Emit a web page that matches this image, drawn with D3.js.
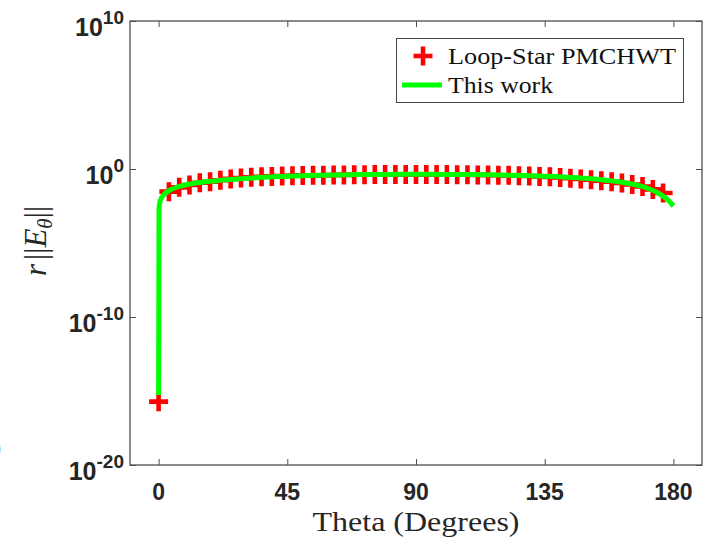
<!DOCTYPE html>
<html><head><meta charset="utf-8">
<script src="https://cdn.jsdelivr.net/npm/d3@7"></script>
<style>body{margin:0;background:#fff}svg{display:block}</style>
</head><body>
<svg id="c" width="725" height="549"></svg>
<script>
// ---- data ----
const thetaTicks = [0, 45, 90, 135, 180];
const yTickExponents = [10, 0, -10, -20];
const seriesNames = ["Loop-Star PMCHWT", "This work"];
const xLabel = "Theta (Degrees)";

const loopStarTheta = [0, 3.6, 7.2, 10.8, 14.4, 18, 21.6, 25.2, 28.8, 32.4, 36, 39.6, 43.2, 46.8, 50.4, 54, 57.6, 61.2, 64.8, 68.4, 72, 75.6, 79.2, 82.8, 86.4, 90, 93.6, 97.2, 100.8, 104.4, 108, 111.6, 115.2, 118.8, 122.4, 126, 129.6, 133.2, 136.8, 140.4, 144, 147.6, 151.2, 154.8, 158.4, 162, 165.6, 169.2, 172.8, 176.4];
const loopStarValues = [1.9e-16, 0.0295, 0.0575, 0.0832, 0.117, 0.138, 0.174, 0.214, 0.245, 0.275, 0.302, 0.316, 0.331, 0.347, 0.363, 0.372, 0.380, 0.389, 0.398, 0.407, 0.407, 0.417, 0.417, 0.417, 0.417, 0.417, 0.417, 0.417, 0.417, 0.407, 0.407, 0.398, 0.389, 0.380, 0.372, 0.355, 0.339, 0.316, 0.295, 0.269, 0.240, 0.214, 0.186, 0.162, 0.138, 0.112, 0.0891, 0.0661, 0.0417, 0.0240];

const thisWorkTheta = [0, 0.15, 0.5, 1, 2, 3, 4, 6, 8, 10, 12, 15, 18, 21, 25, 30, 35, 40, 45, 50, 55, 60, 70, 80, 90, 100, 110, 120, 130, 140, 145, 150, 155, 160, 165, 168, 171, 174, 176, 178, 179, 180];
const thisWorkValues = [5.4e-16, 0.0025, 0.0063, 0.0112, 0.0200, 0.0282, 0.038, 0.0562, 0.0724, 0.0891, 0.105, 0.126, 0.148, 0.170, 0.195, 0.229, 0.263, 0.295, 0.324, 0.347, 0.372, 0.389, 0.417, 0.432, 0.437, 0.432, 0.417, 0.389, 0.347, 0.302, 0.269, 0.229, 0.186, 0.145, 0.102, 0.0759, 0.0501, 0.0282, 0.0166, 0.0083, 0.0052, 0.00316];

// ---- layout ----
const svg = d3.select("#c");
const L = 130, R = 702, T = 21, B = 465;
const x = d3.scaleLinear().domain([-10, 190]).range([L, R]);
const y = d3.scaleLog().domain([1e-20, 1e10]).range([B, T]);
const axisColor = "#4f4f4f";
const tickFont = "'Liberation Sans', Arial, Helvetica, sans-serif";
const serif = "'Liberation Serif', 'Times New Roman', serif";

// axes (ticks inward, mirrored on top/right)
const gB = svg.append("g").attr("transform", `translate(0,${B})`)
  .call(d3.axisBottom(x).tickValues(thetaTicks).tickSize(-6).tickFormat(""));
const gT = svg.append("g").attr("transform", `translate(0,${T})`)
  .call(d3.axisTop(x).tickValues(thetaTicks).tickSize(-6).tickFormat(""));
const yTicks = yTickExponents.map(e => Math.pow(10, e));
const gL = svg.append("g").attr("transform", `translate(${L},0)`)
  .call(d3.axisLeft(y).tickValues(yTicks).tickSize(-6).tickFormat(""));
const gR = svg.append("g").attr("transform", `translate(${R},0)`)
  .call(d3.axisRight(y).tickValues(yTicks).tickSize(-6).tickFormat(""));
[gB, gT, gL, gR].forEach(g => {
  g.select(".domain").remove();
  g.selectAll(".tick line").attr("stroke", axisColor).attr("stroke-width", 1);
});
svg.append("rect").attr("x", L).attr("y", T).attr("width", R - L).attr("height", B - T)
  .attr("fill", "none").attr("stroke", axisColor).attr("stroke-width", 1.3);

// x tick labels
svg.append("g").selectAll("text").data(thetaTicks).join("text")
  .attr("x", d => x(d)).attr("y", B + 35)
  .attr("text-anchor", "middle")
  .attr("font-family", tickFont).attr("font-weight", "bold").attr("font-size", 23)
  .attr("fill", "#262626").text(d => d);

// y tick labels 10^n
const yl = svg.append("g").selectAll("text").data(yTickExponents).join("text")
  .attr("x", L - 6).attr("y", d => y(Math.pow(10, d)) + 15)
  .attr("text-anchor", "end")
  .attr("font-family", tickFont).attr("font-weight", "bold").attr("font-size", 25)
  .attr("fill", "#262626");
yl.append("tspan").text("10");
yl.append("tspan").attr("dy", -12).attr("font-size", 19).text(d => d < 0 ? "-" + Math.abs(d) : d);

// markers (Loop-Star PMCHWT)
const plus = "M-9.5,0H9.5M0,-9.5V9.5";
const loopData = loopStarTheta.map((t, i) => ({t, v: loopStarValues[i]}));
svg.append("g").selectAll("path").data(loopData).join("path")
  .attr("d", plus)
  .attr("transform", d => `translate(${x(d.t)},${y(d.v)})`)
  .attr("stroke", "#ff0000").attr("stroke-width", 4.6).attr("fill", "none");

// line (This work)
const workData = thisWorkTheta.map((t, i) => ({t, v: thisWorkValues[i]}));
svg.append("path").datum(workData)
  .attr("d", d3.line().x(d => x(d.t)).y(d => y(d.v)).curve(d3.curveMonotoneX))
  .attr("fill", "none").attr("stroke", "#00ff00").attr("stroke-width", 5);

// axis titles
svg.append("text").attr("x", 416).attr("y", 531).attr("text-anchor", "middle")
  .attr("font-family", serif).attr("font-size", 28).attr("fill", "#262626")
  .attr("textLength", 207).attr("lengthAdjust", "spacingAndGlyphs")
  .text(xLabel);

const ylab = svg.append("text").attr("transform", "translate(46,241) rotate(-90)")
  .attr("text-anchor", "middle").attr("font-family", serif).attr("font-size", 31)
  .attr("fill", "#262626");
ylab.append("tspan").attr("font-style", "italic").text("r");
ylab.append("tspan").attr("dx", 4).text("||");
ylab.append("tspan").attr("font-style", "italic").text("E");
ylab.append("tspan").attr("font-style", "italic").attr("font-size", 21).attr("dy", 6).text("θ");
ylab.append("tspan").attr("dy", -6).text("||");

// cut-off glyph at the left edge (as in the reference)
svg.append("text").attr("x", -8).attr("y", 456).attr("font-family", serif)
  .attr("font-size", 28).attr("fill", "#262626").text(")");

// legend
const lg = svg.append("g");
lg.append("rect").attr("x", 396.5).attr("y", 38.5).attr("width", 287).attr("height", 64)
  .attr("fill", "#fff").attr("stroke", "#444").attr("stroke-width", 1);
lg.append("path").attr("d", plus).attr("transform", "translate(423,56)")
  .attr("stroke", "#ff0000").attr("stroke-width", 4.6).attr("fill", "none");
lg.append("line").attr("x1", 402).attr("x2", 442).attr("y1", 85).attr("y2", 85)
  .attr("stroke", "#00ff00").attr("stroke-width", 5);
lg.append("text").attr("x", 448).attr("y", 64).attr("font-family", serif).attr("font-size", 24)
  .attr("fill", "#111").attr("textLength", 228).attr("lengthAdjust", "spacingAndGlyphs")
  .text(seriesNames[0]);
lg.append("text").attr("x", 448).attr("y", 93).attr("font-family", serif).attr("font-size", 24)
  .attr("fill", "#111").attr("textLength", 105).attr("lengthAdjust", "spacingAndGlyphs")
  .text(seriesNames[1]);
</script>
</body></html>
